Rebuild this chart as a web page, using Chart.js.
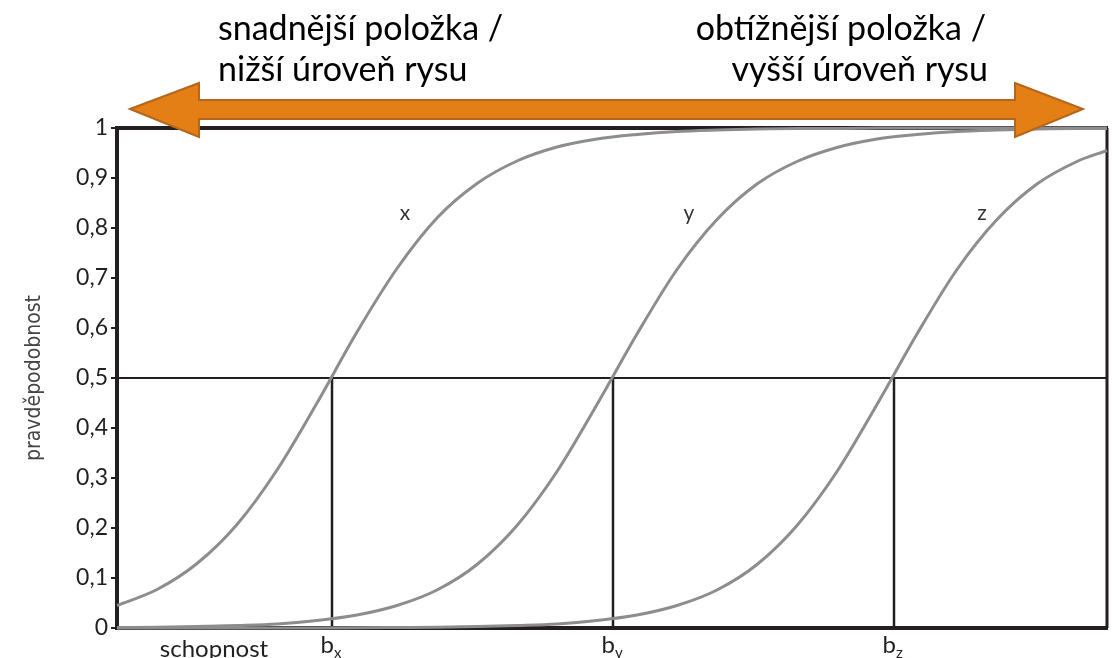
<!DOCTYPE html>
<html>
<head>
<meta charset="utf-8">
<script src="https://cdn.jsdelivr.net/npm/chart.js@4.4.1/dist/chart.umd.min.js"></script>
<style>
    html, body { margin: 0; padding: 0; background: #fff; }
    #wrap { width: 1112px; height: 658px; position: relative; }
</style>
</head>
<body>
<div id="wrap"><canvas id="myChart"></canvas></div>
<script>
// ability grid (x) shared by the three item curves
var abilityGrid = [0, 4, 8, 12, 16, 20, 24, 28, 32, 36, 40, 44, 48, 52, 56, 60, 64, 68, 72, 76, 80, 84, 88, 92, 96, 99];
// probability
var curveX = [0.045, 0.077, 0.129, 0.207, 0.316, 0.450, 0.592, 0.719, 0.820, 0.889, 0.934, 0.962, 0.978, 0.987, 0.993, 0.996, 0.998, 0.999, 0.999, 1, 1, 1, 1, 1, 1, 1];
var curveY = [0.001, 0.0015, 0.003, 0.005, 0.008, 0.015, 0.026, 0.045, 0.076, 0.127, 0.205, 0.313, 0.447, 0.588, 0.717, 0.817, 0.888, 0.933, 0.961, 0.978, 0.987, 0.993, 0.996, 0.998, 0.999, 0.999];
var curveZ = [0, 0, 0, 0, 0.0001, 0.0002, 0.0005, 0.001, 0.0015, 0.003, 0.005, 0.008, 0.015, 0.026, 0.045, 0.076, 0.127, 0.205, 0.313, 0.447, 0.588, 0.717, 0.817, 0.888, 0.933, 0.955];
var curveNames = ['x', 'y', 'z'];
// item difficulties b_x, b_y, b_z
var difficulties = [21.5, 49.6, 77.7];
var difficultySubs = ['x', 'y', 'z'];
var halfProb = 0.5;
var yTickLabels = ['0', '0,1', '0,2', '0,3', '0,4', '0,5', '0,6', '0,7', '0,8', '0,9', '1'];

var INK = '#231f20';
var CURVE = '#8d8d8d';

function toPoints(xs, ys) {
    return xs.map(function (x, i) { return { x: x, y: ys[i] }; });
}

var datasets = [];
[curveX, curveY, curveZ].forEach(function (vals, i) {
    datasets.push({
        label: curveNames[i],
        data: toPoints(abilityGrid, vals),
        borderColor: CURVE,
        borderWidth: 3,
        pointRadius: 0,
        cubicInterpolationMode: 'monotone',
        clip: false
    });
});
datasets.push({
    label: 'half',
    data: [{ x: abilityGrid[0], y: halfProb }, { x: abilityGrid[abilityGrid.length - 1], y: halfProb }],
    borderColor: INK,
    borderWidth: 2,
    pointRadius: 0
});
difficulties.forEach(function (b) {
    datasets.push({
        label: 'b',
        data: [{ x: b, y: 0 }, { x: b, y: halfProb }],
        borderColor: INK,
        borderWidth: 2.5,
        pointRadius: 0
    });
});

// frame, arrow, texts
var decor = {
    id: 'decor',
    beforeDatasetsDraw: function (chart) {
        var a = chart.chartArea, c = chart.ctx;
        c.save();
        c.strokeStyle = INK;
        c.lineWidth = 4;
        c.beginPath();
        c.moveTo(a.left - 2, a.top);
        c.lineTo(a.right + 1, a.top);
        c.stroke();
        c.lineWidth = 3;
        c.beginPath();
        c.moveTo(a.right, a.top);
        c.lineTo(a.right, a.bottom);
        c.stroke();
        c.restore();
    },
    afterDraw: function (chart) {
        var c = chart.ctx, sx = chart.scales.x, sy = chart.scales.y;
        c.save();
        // double arrow
        c.beginPath();
        c.moveTo(130, 109);
        c.lineTo(199, 83);
        c.lineTo(199, 100);
        c.lineTo(1015, 100);
        c.lineTo(1015, 83);
        c.lineTo(1083, 109);
        c.lineTo(1015, 137);
        c.lineTo(1015, 119);
        c.lineTo(199, 119);
        c.lineTo(199, 137);
        c.closePath();
        c.fillStyle = '#e37f14';
        c.fill();
        c.strokeStyle = '#b4661c';
        c.lineWidth = 2;
        c.stroke();

        // header text
        c.fillStyle = '#000';
        c.font = '34px Lato, sans-serif';
        c.textBaseline = 'alphabetic';
        c.textAlign = 'left';
        c.fillText('snadnější položka /', 218, 40);
        c.fillText('nižší úroveň rysu', 218, 81);
        c.textAlign = 'right';
        c.fillText('obtížnější položka /', 986, 40);
        c.fillText('vyšší úroveň rysu', 988, 81);

        // curve names
        c.fillStyle = '#333';
        c.font = '21px Lato, sans-serif';
        c.textAlign = 'center';
        c.textBaseline = 'middle';
        var namePos = [[28.8, 0.83], [57.2, 0.83], [86.5, 0.83]];
        curveNames.forEach(function (n, i) {
            c.fillText(n, sx.getPixelForValue(namePos[i][0]), sy.getPixelForValue(namePos[i][1]));
        });

        // x labels
        c.fillStyle = INK;
        c.textBaseline = 'alphabetic';
        c.font = '24px Lato, sans-serif';
        c.fillText('schopnost', 214, 657);
        difficulties.forEach(function (b, i) {
            var px = sx.getPixelForValue(b);
            c.font = '24px Lato, sans-serif';
            c.textAlign = 'right';
            c.fillText('b', px + 2, 653);
            c.font = '15px Lato, sans-serif';
            c.textAlign = 'left';
            c.fillText(difficultySubs[i], px + 2, 658);
        });

        // y title
        c.translate(35, (sy.top + sy.bottom) / 2);
        c.rotate(-Math.PI / 2);
        c.font = '21px "Liberation Sans Narrow", "DejaVu Sans Condensed", sans-serif';
        c.fillStyle = '#444';
        c.textAlign = 'center';
        c.textBaseline = 'middle';
        c.fillText('pravděpodobnost', 0, 0);
        c.restore();
    }
};

var ctx = document.getElementById('myChart').getContext('2d');
var myChart = new Chart(ctx, {
    type: 'line',
    data: { datasets: datasets },
    options: {
        responsive: true,
        maintainAspectRatio: false,
        animation: false,
        layout: { padding: { top: 128, right: 5, left: 0, bottom: 0 } },
        plugins: { legend: { display: false }, tooltip: { enabled: false } },
        scales: {
            x: {
                type: 'linear',
                min: 0,
                max: 99,
                ticks: { display: false },
                grid: { display: false, drawTicks: false },
                border: { color: INK, width: 4 },
                afterFit: function (s) { s.height = 30; }
            },
            y: {
                min: 0,
                max: 1,
                ticks: {
                    stepSize: 0.1,
                    color: INK,
                    padding: 3,
                    font: { family: 'Lato', size: 23 },
                    callback: function (v, i) { return yTickLabels[i]; }
                },
                grid: { drawOnChartArea: false, tickLength: 6, color: INK, lineWidth: 2 },
                border: { color: INK, width: 4 },
                afterFit: function (s) { s.width = 117; }
            }
        }
    },
    plugins: [decor]
});
</script>
</body>
</html>
